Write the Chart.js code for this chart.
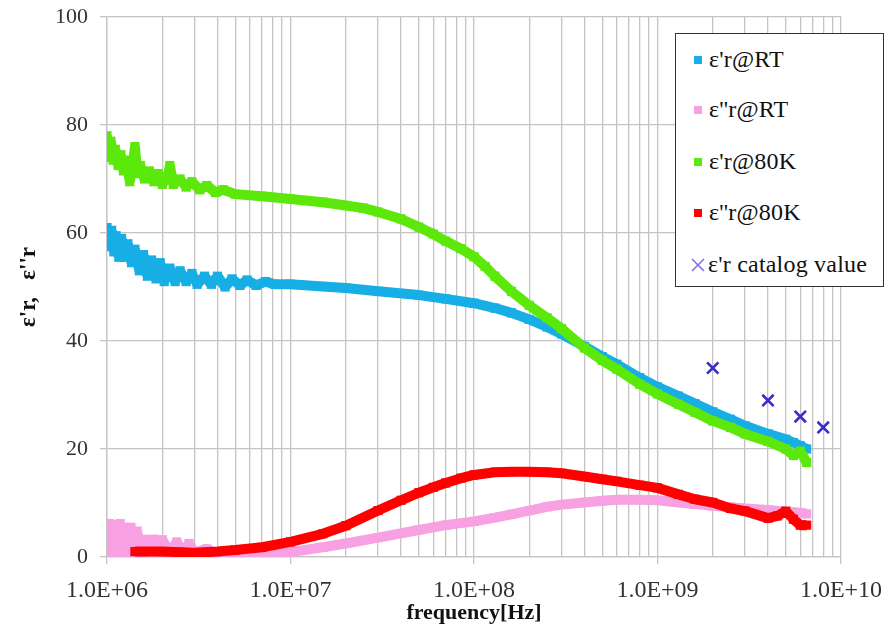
<!DOCTYPE html>
<html>
<head>
<meta charset="utf-8">
<title>permittivity vs frequency</title>
<script src="https://cdn.jsdelivr.net/npm/chart.js@4.4.0/dist/chart.umd.min.js"></script>
<style>
  html, body { margin: 0; padding: 0; background: #fff; }
  #wrap { position: relative; width: 893px; height: 641px; }
  #legend {
    position: absolute; left: 675px; top: 33px; width: 209px; height: 254px;
    box-sizing: border-box; border: 1.5px solid #333; background: #fff;
    font-family: "Liberation Serif", serif; font-size: 24px; letter-spacing: 0.2px; color: #111;
  }
  .leg-item { position: absolute; left: 18px; display: flex; align-items: center; white-space: nowrap; }
  .leg-box { width: 8px; height: 8px; margin-right: 7px; }
</style>
</head>
<body>
<div id="wrap">
  <canvas id="chart"></canvas>
  <div id="legend"></div>
</div>
<script>
// ===== Data =====
const freqRealRT = [1.00e6, 1.03e6, 1.06e6, 1.09e6, 1.12e6, 1.16e6, 1.2e6, 1.25e6, 1.3e6, 1.36e6,
  1.42e6, 1.5e6, 1.58e6, 1.66e6, 1.75e6, 1.85e6, 1.95e6, 2.05e6, 2.2e6, 2.35e6, 2.5e6, 2.7e6,
  2.9e6, 3.1e6, 3.4e6, 3.7e6, 4e6, 4.4e6, 4.8e6, 5.3e6, 5.8e6, 6.5e6, 7.3e6, 8.2e6, 1e7,
  1.5e7, 2e7, 3e7, 5e7, 7e7, 1e8, 1.3e8, 1.6e8, 2e8, 2.5e8, 3e8, 4e8, 5e8, 6e8, 8e8,
  1e9, 1.3e9, 1.6e9, 2e9, 2.5e9, 3e9, 4e9, 5e9, 5.5e9, 6e9, 6.5e9];
const epsRealRT = [61, 57.5, 60.5, 56.5, 59.5, 55.5, 59, 55.5, 58, 54.5,
  57, 53, 56, 52, 55, 51.5, 54.5, 51, 53.5, 51, 53, 51,
  52.5, 50.5, 52, 50.5, 52, 50, 51.5, 50.3, 51.3, 50.3, 51, 50.5, 50.5,
  50.1, 49.8, 49.2, 48.5, 47.8, 47, 46.1, 45.2, 44, 42.6, 41.3, 39.0, 37.1, 35.7, 33.2,
  31.5, 29.8, 28.4, 26.9, 25.5, 24.3, 22.8, 21.8, 21.2, 20.6, 20];

const freqImagRT = [1.00e6, 1.01e6, 1.03e6, 1.05e6, 1.07e6, 1.09e6, 1.12e6, 1.15e6, 1.18e6, 1.21e6,
  1.25e6, 1.3e6, 1.35e6, 1.4e6, 1.46e6, 1.52e6, 1.6e6, 1.7e6, 1.8e6, 1.9e6, 2e6, 2.2e6,
  2.4e6, 2.6e6, 2.8e6, 3e6, 3.5e6, 4e6, 5e6, 7e6, 1e7, 1.5e7, 2e7, 3e7, 5e7, 7e7,
  1e8, 1.3e8, 1.6e8, 2e8, 2.5e8, 3e8, 4e8, 5e8, 6e8, 8e8,
  1e9, 1.3e9, 1.6e9, 2e9, 2.5e9, 3e9, 4e9, 5e9, 5.5e9, 6e9, 6.5e9];
const epsImagRT = [6, 0.8, 6.2, 0.8, 2.5, 0.8, 6, 0.8, 6.2, 0.8,
  5.5, 0.8, 5.5, 0.8, 4.8, 0.8, 3.3, 0.8, 3.3, 0.8, 3.2, 1,
  2.8, 1, 2.5, 0.8, 1.5, 0.5, 0.5, 0.5, 0.9, 1.8, 2.5, 3.6, 5.0, 5.9,
  6.6, 7.3, 7.9, 8.6, 9.3, 9.7, 10.1, 10.4, 10.6, 10.6,
  10.5, 10.1, 9.8, 9.5, 9.2, 9, 8.7, 8.4, 8.3, 8.2, 8];

const freqReal80K = [1.00e6, 1.02e6, 1.05e6, 1.08e6, 1.11e6, 1.15e6, 1.19e6, 1.23e6, 1.28e6, 1.33e6,
  1.38e6, 1.42e6, 1.46e6, 1.52e6, 1.6e6, 1.7e6, 1.8e6, 1.9e6, 2e6, 2.15e6, 2.2e6, 2.3e6,
  2.5e6, 2.7e6, 2.9e6, 3.2e6, 3.5e6, 3.9e6, 4.3e6, 5e6, 7e6, 1e7, 1.5e7, 2e7, 2.5e7, 3e7,
  4e7, 5e7, 6e7, 7e7, 8.5e7, 1e8, 1.15e8, 1.3e8, 1.6e8, 2e8, 2.5e8, 3e8, 4e8, 5e8, 6e8, 8e8,
  1e9, 1.3e9, 1.6e9, 2e9, 2.5e9, 3e9, 4e9, 5e9, 5.5e9, 6e9, 6.5e9];
const epsReal80K = [78, 74, 77, 73.5, 75.5, 72.5, 74.5, 71.5, 73.5, 69.5,
  72.5, 76, 71, 72.5, 70, 71.5, 69.5, 71, 69, 70.5, 72.5, 69,
  70, 68.5, 69.5, 68, 68.8, 67.5, 68, 67.2, 66.8, 66.3, 65.7, 65.1, 64.6, 63.9,
  62.6, 61.1, 59.8, 58.5, 57.1, 55.6, 53.8, 52, 49.2, 46.6, 44.3, 42.3, 38.7, 36.4, 34.8, 32,
  30.2, 28.3, 26.8, 25.2, 24, 22.8, 21.4, 20, 18.8, 19.6, 17.5];

const freqImag80K = [1.42e6, 1.6e6, 2e6, 2.5e6, 3e6, 4e6, 5e6, 7e6, 1e7, 1.5e7, 2e7, 3e7, 4e7, 5e7, 6e7, 7e7,
  8.5e7, 1e8, 1.3e8, 1.6e8, 2e8, 2.5e8, 3e8, 4e8, 5e8, 6e8, 8e8,
  1e9, 1.3e9, 1.6e9, 2e9, 2.5e9, 3e9, 4e9, 4.5e9, 5e9, 5.5e9, 6e9, 6.5e9];
const epsImag80K = [1.0, 1.0, 1.0, 0.9, 0.8, 1.0, 1.3, 1.8, 2.8, 4.3, 5.8, 8.6, 10.5, 11.9, 12.9, 13.7,
  14.6, 15.2, 15.7, 15.8, 15.8, 15.7, 15.5, 14.9, 14.4, 14, 13.3,
  12.8, 11.6, 10.7, 10.1, 9, 8.5, 7.2, 7.6, 8.5, 7, 5.9, 5.9];

const freqCatalog = [2e9, 4e9, 6e9, 8e9];
const epsCatalog  = [35, 29, 26, 24];

const xTickValues = [];
for (let e = 6; e <= 10; e++) {
  for (let m = 1; m <= 9; m++) {
    if (e === 10 && m > 1) break;
    xTickValues.push(m * Math.pow(10, e));
  }
}

const seriesNames  = ["\u03b5'r@RT", "\u03b5''r@RT", "\u03b5'r@80K", "\u03b5''r@80K", "\u03b5'r catalog value"];
const seriesColors = ['#17aee6', '#f7a1e2', '#5be80a', '#ff0000', '#3a2bcc'];

// ===== Helpers =====
const pts = (xs, ys) => xs.map((x, i) => ({ x, y: ys[i] }));
const isDecade = v => Math.abs(Math.log10(v) - Math.round(Math.log10(v))) < 1e-9;
const SERIF = '"Liberation Serif", serif';
const GRID = '#c4c4c4';

function band(label, data, color, order) {
  return {
    label, data, order,
    showLine: true,
    borderColor: color,
    backgroundColor: color,
    borderWidth: 10,
    borderJoinStyle: 'bevel',
    pointStyle: 'rect',
    pointRadius: 6.5,
    pointBorderWidth: 0,
    pointBackgroundColor: color,
    tension: 0,
  };
}

// ===== Chart =====
new Chart(document.getElementById('chart'), {
  type: 'scatter',
  data: {
    datasets: [
      band(seriesNames[0], pts(freqRealRT, epsRealRT), seriesColors[0], 5),
      band(seriesNames[1], pts(freqImagRT, epsImagRT), seriesColors[1], 4),
      band(seriesNames[2], pts(freqReal80K, epsReal80K), seriesColors[2], 3),
      band(seriesNames[3], pts(freqImag80K, epsImag80K), seriesColors[3], 2),
      {
        label: seriesNames[4],
        data: pts(freqCatalog, epsCatalog),
        order: 1,
        showLine: false,
        pointStyle: 'crossRot',
        pointRadius: 8,
        pointBorderWidth: 2.6,
        pointBorderColor: seriesColors[4],
        borderColor: seriesColors[4],
      },
    ],
  },
  options: {
    responsive: true,
    maintainAspectRatio: false,
    animation: false,
    layout: { padding: { top: 17, right: 52, left: 0, bottom: 0 } },
    plugins: { legend: { display: false }, tooltip: { enabled: false } },
    scales: {
      x: {
        type: 'logarithmic',
        min: 1e6, max: 1e10,
        afterBuildTicks: s => { s.ticks = xTickValues.map(value => ({ value })); },
        afterFit: s => { s.height = 84; s.paddingLeft = 0; s.paddingRight = 0; },
        ticks: {
          autoSkip: false, maxRotation: 0, padding: 12,
          color: '#333', font: { family: SERIF, size: 24 },
          callback: v => isDecade(v) ? '1.0E+' + String(Math.round(Math.log10(v))).padStart(2, '0') : '',
        },
        grid: {
          color: GRID, lineWidth: 1.3, tickLength: 7,
          tickColor: ctx => (ctx.tick && isDecade(ctx.tick.value)) ? GRID : 'rgba(0,0,0,0)',
        },
        border: { color: GRID, width: 1.3 },
        title: {
          display: true, text: 'frequency[Hz]', color: '#111', padding: { top: 0, bottom: 14 },
          font: { family: SERIF, size: 22, weight: 'bold' },
        },
      },
      y: {
        min: 0, max: 100,
        ticks: { stepSize: 20, padding: 12, color: '#333', font: { family: SERIF, size: 22 } },
        afterFit: s => { s.width = 107; s.paddingTop = 0; s.paddingBottom = 0; },
        grid: { color: GRID, lineWidth: 1.3, tickLength: 7 },
        border: { color: GRID, width: 1.3 },
        title: {
          display: true, text: "\u03b5'r,   \u03b5''r", color: '#111', padding: { top: 15, bottom: 0 },
          font: { family: SERIF, size: 23, weight: 'bold' },
        },
      },
    },
  },
});

// ===== Legend =====
const legend = document.getElementById('legend');
const legendTops = [12, 62, 114, 165, 217];
seriesNames.forEach((name, i) => {
  const item = document.createElement('div');
  item.className = 'leg-item';
  item.style.top = legendTops[i] + 'px';
  const mark = i < 4
    ? `<span class="leg-box" style="background:${seriesColors[i]}"></span>`
    : `<svg width="16" height="16" style="margin-right:2px;margin-left:-4px"><path d="M2 2L14 14M14 2L2 14" stroke="#7d6ee0" stroke-width="1.5"/></svg>`;
  item.innerHTML = mark + `<span>${name}</span>`;
  legend.appendChild(item);
});
</script>
</body>
</html>
